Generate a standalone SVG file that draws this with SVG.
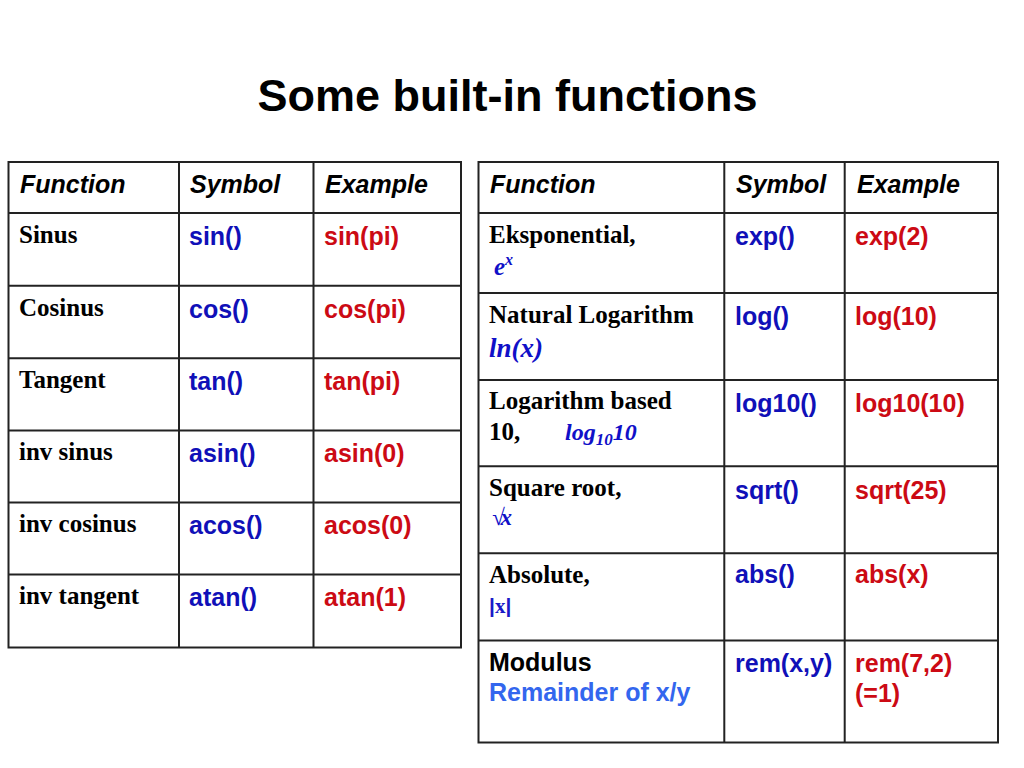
<svg xmlns="http://www.w3.org/2000/svg" width="1024" height="768" viewBox="0 0 1024 768">
<style>
.grid{stroke:#222;stroke-width:2;fill:none}
.title{font-family:"Liberation Sans",Arial,sans-serif;font-weight:bold;font-size:45px;fill:#000}
.hd{font-family:"Liberation Sans",Arial,sans-serif;font-weight:bold;font-style:italic;font-size:25px;fill:#000}
.fn{font-family:"Liberation Serif","Times New Roman",serif;font-weight:bold;font-size:25px;fill:#000}
.sym{font-family:"Liberation Sans",Arial,sans-serif;font-weight:bold;font-size:25px;fill:#1010b8}
.ex{font-family:"Liberation Sans",Arial,sans-serif;font-weight:bold;font-size:25px;fill:#cc0a14}
.math{font-family:"Liberation Serif","Times New Roman",serif;font-weight:bold;font-style:italic;fill:#1010c8}
.sans{font-family:"Liberation Sans",Arial,sans-serif;font-weight:bold;font-size:25px}
.absx{font-family:"Liberation Serif","Times New Roman",serif;font-weight:bold;font-size:21px;fill:#1a1ac8}
</style>
<rect width="1024" height="768" fill="#fff"/>
<text class="title" x="507.5" y="111" text-anchor="middle">Some built-in functions</text>

<g id="table-left">
  <g id="left-grid" class="grid">
    <rect x="8.5" y="162" width="452.5" height="485.5"/>
    <line x1="179" y1="162" x2="179" y2="647.5"/>
    <line x1="313.5" y1="162" x2="313.5" y2="647.5"/>
    <line x1="8.5" y1="213" x2="461" y2="213"/>
    <line x1="8.5" y1="285.7" x2="461" y2="285.7"/>
    <line x1="8.5" y1="358.2" x2="461" y2="358.2"/>
    <line x1="8.5" y1="430.6" x2="461" y2="430.6"/>
    <line x1="8.5" y1="502.6" x2="461" y2="502.6"/>
    <line x1="8.5" y1="574.6" x2="461" y2="574.6"/>
  </g>
  <g id="left-header">
    <text class="hd" x="20" y="193">Function</text>
    <text class="hd" x="190" y="193">Symbol</text>
    <text class="hd" x="325" y="193">Example</text>
  </g>
  <g id="row-sin">
    <text class="fn" x="19" y="243">Sinus</text>
    <text class="sym" x="189" y="245">sin()</text>
    <text class="ex" x="324" y="245">sin(pi)</text>
  </g>
  <g id="row-cos">
    <text class="fn" x="19" y="315.7">Cosinus</text>
    <text class="sym" x="189" y="317.5">cos()</text>
    <text class="ex" x="324" y="317.5">cos(pi)</text>
  </g>
  <g id="row-tan">
    <text class="fn" x="19" y="388">Tangent</text>
    <text class="sym" x="189" y="389.8">tan()</text>
    <text class="ex" x="324" y="389.8">tan(pi)</text>
  </g>
  <g id="row-asin">
    <text class="fn" x="19" y="460">inv sinus</text>
    <text class="sym" x="189" y="462">asin()</text>
    <text class="ex" x="324" y="462">asin(0)</text>
  </g>
  <g id="row-acos">
    <text class="fn" x="19" y="532.3">inv cosinus</text>
    <text class="sym" x="189" y="534">acos()</text>
    <text class="ex" x="324" y="534">acos(0)</text>
  </g>
  <g id="row-atan">
    <text class="fn" x="19" y="604.3">inv tangent</text>
    <text class="sym" x="189" y="606">atan()</text>
    <text class="ex" x="324" y="606">atan(1)</text>
  </g>
</g>

<g id="table-right">
  <g id="right-grid" class="grid">
    <rect x="478.5" y="162" width="519.5" height="580.5"/>
    <line x1="724.3" y1="162" x2="724.3" y2="742.5"/>
    <line x1="844.7" y1="162" x2="844.7" y2="742.5"/>
    <line x1="478.5" y1="213" x2="998" y2="213"/>
    <line x1="478.5" y1="293" x2="998" y2="293"/>
    <line x1="478.5" y1="380" x2="998" y2="380"/>
    <line x1="478.5" y1="466.3" x2="998" y2="466.3"/>
    <line x1="478.5" y1="553.3" x2="998" y2="553.3"/>
    <line x1="478.5" y1="640.5" x2="998" y2="640.5"/>
  </g>
  <g id="right-header">
    <text class="hd" x="490" y="193">Function</text>
    <text class="hd" x="736" y="193">Symbol</text>
    <text class="hd" x="857" y="193">Example</text>
  </g>
  <g id="row-exp">
    <text class="fn" x="489" y="243.3">Eksponential,</text>
    <text class="math" x="494" y="275" font-size="25">e<tspan font-size="16" dy="-10">x</tspan></text>
    <text class="sym" x="735" y="245">exp()</text>
    <text class="ex" x="855" y="245">exp(2)</text>
  </g>
  <g id="row-log">
    <text class="fn" x="489" y="322.7">Natural Logarithm</text>
    <text class="math" x="489" y="356.7" font-size="27">ln(x)</text>
    <text class="sym" x="735" y="325">log()</text>
    <text class="ex" x="855" y="325">log(10)</text>
  </g>
  <g id="row-log10">
    <text class="fn" x="489" y="409">Logarithm based</text>
    <text class="fn" x="489" y="440">10,</text>
    <text class="math" x="565" y="440" font-size="24">log<tspan font-size="17" dy="5">10</tspan><tspan dy="-5">10</tspan></text>
    <text class="sym" x="735" y="411.7">log10()</text>
    <text class="ex" x="855" y="411.7">log10(10)</text>
  </g>
  <g id="row-sqrt">
    <text class="fn" x="489" y="496">Square root,</text>
    <text class="math" x="492" y="525" font-size="23" letter-spacing="-4">√x</text>
    <text class="sym" x="735" y="499.3">sqrt()</text>
    <text class="ex" x="855" y="499.3">sqrt(25)</text>
  </g>
  <g id="row-abs">
    <text class="fn" x="489" y="583.3">Absolute,</text>
    <text class="absx" x="489" y="613.3"><tspan font-family="Liberation Sans, Arial, sans-serif">|</tspan>x<tspan font-family="Liberation Sans, Arial, sans-serif">|</tspan></text>
    <text class="sym" x="735" y="583.3">abs()</text>
    <text class="ex" x="855" y="583.3">abs(x)</text>
  </g>
  <g id="row-rem">
    <text class="sans" x="489" y="670.7" fill="#000">Modulus</text>
    <text class="sans" x="489" y="700.7" fill="#3366ee">Remainder of x/y</text>
    <text class="sym" x="735" y="671.7">rem(x,y)</text>
    <text class="ex" x="855" y="671.7">rem(7,2)</text>
    <text class="ex" x="855" y="701.7">(=1)</text>
  </g>
</g>
</svg>
